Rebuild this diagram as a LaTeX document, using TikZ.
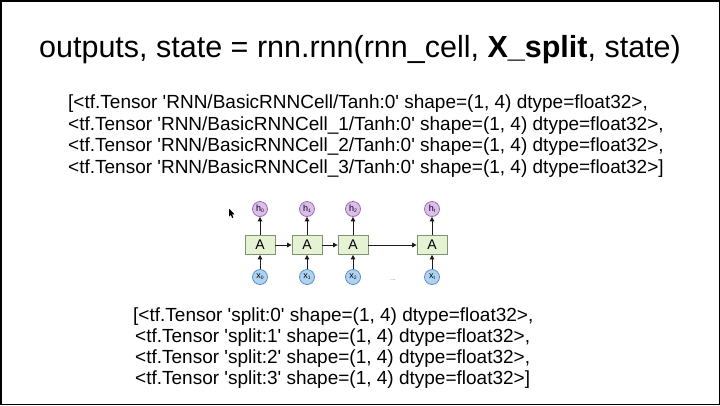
\documentclass[tikz,border=0pt]{standalone}
\usepackage{fontspec}
\setmainfont{Liberation Sans}
\usetikzlibrary{arrows.meta}
\definecolor{boxfill}{HTML}{E6F2D4}
\definecolor{boxline}{HTML}{7F9470}
\definecolor{hfill}{HTML}{DDBDEB}
\definecolor{hline}{HTML}{9C6DB3}
\definecolor{xfill}{HTML}{AED3F2}
\definecolor{xline}{HTML}{5F8FC2}
\definecolor{arrcol}{HTML}{1A1A1A}
\begin{document}
\begin{tikzpicture}[x=1pt,y=-1pt,
  codeline/.style={anchor=base west,inner sep=0pt,font=\fontsize{19}{22}\selectfont},
  cellbox/.style={rectangle,draw=boxline,fill=boxfill,line width=0.8pt,minimum width=30pt,minimum height=19pt,inner sep=0pt,font=\fontsize{14}{14}\selectfont},
  hcirc/.style={circle,draw=hline,fill=hfill,line width=0.8pt,minimum size=15pt,inner sep=0pt,font=\fontsize{9}{9}\selectfont},
  xcirc/.style={circle,draw=xline,fill=xfill,line width=0.8pt,minimum size=15pt,inner sep=0pt,font=\fontsize{9}{9}\selectfont},
  arr/.style={draw=arrcol,line width=1pt,-{Triangle[length=4.5pt,width=4.5pt]}}]
\useasboundingbox (0,0) rectangle (720,405);
\fill[white] (0,0) rectangle (720,405);
\draw[line width=1.5pt] (0.75,0.75) rectangle (719.25,404.25);

\node[anchor=base,inner sep=0pt,font=\fontsize{30.5}{36}\selectfont] (title) at (360,57)
  {outputs, state = rnn.rnn(rnn\_cell, \textbf{X\_split}, state)};

\node[codeline] (o1) at (68,108) {[<tf.Tensor \textquotesingle RNN/BasicRNNCell/Tanh:0\textquotesingle{} shape=(1, 4) dtype=float32>,};
\node[codeline] (o2) at (68,130) {<tf.Tensor \textquotesingle RNN/BasicRNNCell\_1/Tanh:0\textquotesingle{} shape=(1, 4) dtype=float32>,};
\node[codeline] (o3) at (68,151.5) {<tf.Tensor \textquotesingle RNN/BasicRNNCell\_2/Tanh:0\textquotesingle{} shape=(1, 4) dtype=float32>,};
\node[codeline] (o4) at (68,173) {<tf.Tensor \textquotesingle RNN/BasicRNNCell\_3/Tanh:0\textquotesingle{} shape=(1, 4) dtype=float32>]};

\node[codeline] (s1) at (133,321) {[<tf.Tensor \textquotesingle split:0\textquotesingle{} shape=(1, 4) dtype=float32>,};
\node[codeline] (s2) at (135,342.5) {<tf.Tensor \textquotesingle split:1\textquotesingle{} shape=(1, 4) dtype=float32>,};
\node[codeline] (s3) at (135,363.5) {<tf.Tensor \textquotesingle split:2\textquotesingle{} shape=(1, 4) dtype=float32>,};
\node[codeline] (s4) at (135,384.5) {<tf.Tensor \textquotesingle split:3\textquotesingle{} shape=(1, 4) dtype=float32>]};

% RNN diagram
\node[cellbox] (a0) at (260,245) {A};
\node[cellbox] (a1) at (307,245) {A};
\node[cellbox] (a2) at (353,245) {A};
\node[cellbox] (a3) at (432,245) {A};
\node[hcirc] (h0) at (260,209) {h\raisebox{-1pt}{\fontsize{5}{5}\selectfont 0}};
\node[hcirc] (h1) at (307,209) {h\raisebox{-1pt}{\fontsize{5}{5}\selectfont 1}};
\node[hcirc] (h2) at (353,209) {h\raisebox{-1pt}{\fontsize{5}{5}\selectfont 2}};
\node[hcirc] (h3) at (432,209) {h\raisebox{-1pt}{\fontsize{5}{5}\selectfont t}};
\node[xcirc] (x0) at (260,277) {x\raisebox{-1pt}{\fontsize{5}{5}\selectfont 0}};
\node[xcirc] (x1) at (307,277) {x\raisebox{-1pt}{\fontsize{5}{5}\selectfont 1}};
\node[xcirc] (x2) at (353,277) {x\raisebox{-1pt}{\fontsize{5}{5}\selectfont 2}};
\node[xcirc] (x3) at (432,277) {x\raisebox{-1pt}{\fontsize{5}{5}\selectfont t}};
\node[font=\fontsize{7}{7}\selectfont,text=gray,inner sep=0pt] (dots) at (393,280) {...};

\foreach \i in {0,1,2,3}{
  \draw[arr] (x\i) -- (a\i);
  \draw[arr] (a\i) -- (h\i);
}
\draw[arr] (a0) -- (a1);
\draw[arr] (a1) -- (a2);
\draw[arr] (a2) -- (a3);

% mouse pointer
\fill[black] (229,208.5) -- (229,216.5) -- (230.8,214.8) -- (232.2,218) -- (233.4,217.4) -- (232,214.3) -- (234.5,214.3) -- cycle;
\end{tikzpicture}
\end{document}
